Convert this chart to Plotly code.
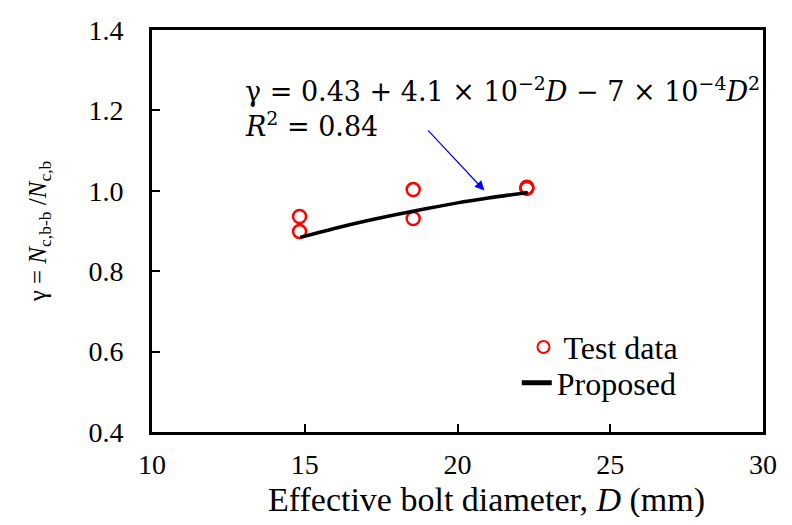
import plotly.graph_objects as go

# Test data
test_D = [14.83, 14.83, 18.55, 18.55, 22.27, 22.27]
test_gamma = [0.936, 0.899, 1.003, 0.931, 1.009, 1.006]

# Proposed curve
prop_D = [14.85, 16, 17, 18, 19, 20, 21, 22.3]
prop_gamma = [0.884, 0.907, 0.925, 0.941, 0.956, 0.970, 0.982, 0.996]

x_ticks = [10, 15, 20, 25, 30]
y_ticks = [0.4, 0.6, 0.8, 1.0, 1.2, 1.4]
y_tick_labels = ["0.4", "0.6", "0.8", "1.0", "1.2", "1.4"]

serif = "Liberation Serif"
mathfont = "DejaVu Serif"

fig = go.Figure()
fig.add_trace(go.Scatter(
    x=test_D, y=test_gamma, mode="markers", name="Test data", legend="legend",
    marker=dict(symbol="circle-open", size=13, color="red", line=dict(width=2.5, color="red")),
))
fig.add_trace(go.Scatter(
    x=prop_D, y=prop_gamma, mode="lines", name="Proposed", legend="legend2",
    line=dict(color="black", width=3.5, shape="spline"),
))

fig.add_annotation(
    x=20.88, y=1.0005, ax=18.99, ay=1.154, axref="x", ayref="y", xref="x", yref="y",
    text="", showarrow=True, arrowhead=2, arrowsize=1.6, arrowwidth=1.2, arrowcolor="blue",
)
fig.add_annotation(
    x=0.149, y=0.852, xref="paper", yref="paper", xanchor="left", yanchor="middle",
    text="γ = 0.43 + 4.1 × 10<sup>−2</sup><i>D</i> − 7 × 10<sup>−4</sup><i>D</i><sup>2</sup>",
    showarrow=False, font=dict(family=mathfont, size=27, color="black"), align="left",
)
fig.add_annotation(
    x=0.149, y=0.766, xref="paper", yref="paper", xanchor="left", yanchor="middle",
    text="<i>R</i><sup>2</sup> = 0.84",
    showarrow=False, font=dict(family=mathfont, size=27, color="black"), align="left",
)
# x-axis title (placed as in the reference, slightly right of centre)
fig.add_annotation(
    x=0.548, y=-0.168, xref="paper", yref="paper", xanchor="center", yanchor="middle",
    text="Effective bolt diameter, <i>D</i> (mm)", showarrow=False,
    font=dict(family=serif, size=34, color="black"),
)

leg_common = dict(xanchor="left", yanchor="middle", bgcolor="rgba(0,0,0,0)",
                  font=dict(family=serif, size=32), itemsizing="constant")

fig.update_layout(
    width=776, height=509,
    margin=dict(l=144, r=7, t=21, b=85),
    paper_bgcolor="white", plot_bgcolor="white",
    font=dict(family=serif, size=25, color="black"),
    showlegend=True,
    legend=dict(x=0.608, y=0.211, **leg_common),
    legend2=dict(x=0.597, y=0.122, **leg_common),
    xaxis=dict(
        range=[10, 30], tickvals=x_ticks, ticks="inside", ticklen=8, tickwidth=1.5,
        tickcolor="black", showline=True, linecolor="black", linewidth=3, mirror=True,
        showgrid=False, zeroline=False, tickfont=dict(family=serif, size=28),
        ticklabelstandoff=5, ticklabeloverflow="allow",
    ),
    yaxis=dict(
        range=[0.4, 1.4], tickvals=y_ticks, ticktext=y_tick_labels, ticks="inside", ticklen=8,
        tickwidth=1.5, tickcolor="black", showline=True, linecolor="black", linewidth=3,
        mirror=True, showgrid=False, zeroline=False, tickfont=dict(family=serif, size=28),
        ticklabelstandoff=20,
        title=dict(text="γ = <i>N</i><sub>c,b-b</sub> /<i>N</i><sub>c,b</sub>", font=dict(family=serif, size=25), standoff=35),
    ),
)

fig.write_html("out.html")
